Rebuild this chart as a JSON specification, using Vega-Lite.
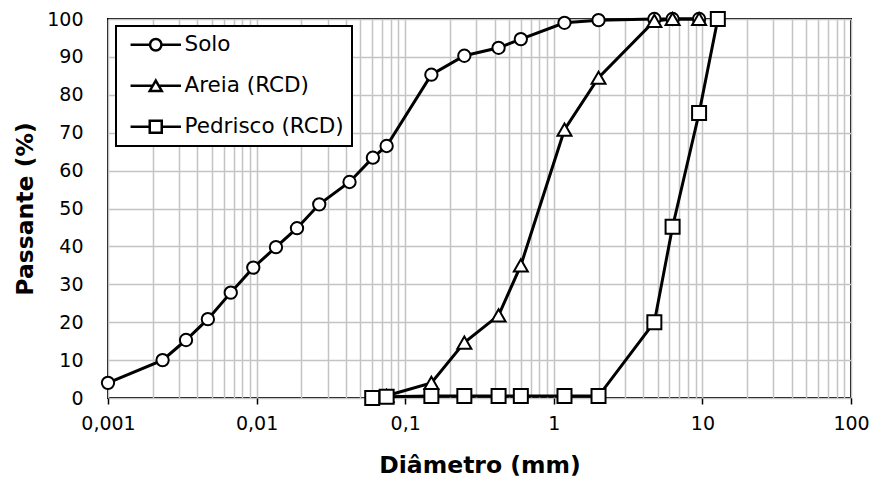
{
  "$schema": "https://vega.github.io/schema/vega-lite/v6.json",
  "width": 743,
  "height": 379,
  "autosize": {"type": "none"},
  "padding": {"left": 108, "top": 19, "right": 25, "bottom": 81},
  "background": "white",
  "config": {
    "view": {"stroke": "black", "strokeWidth": 2},
    "font": "DejaVu Sans",
    "legend": {"strokeWidth": 2}
  },
  "data": {
    "values": [
      {"series": "Solo", "d": 0.001, "p": 4},
      {"series": "Solo", "d": 0.00233, "p": 10},
      {"series": "Solo", "d": 0.00335, "p": 15.3},
      {"series": "Solo", "d": 0.0047, "p": 20.8},
      {"series": "Solo", "d": 0.0067, "p": 27.8},
      {"series": "Solo", "d": 0.0095, "p": 34.4},
      {"series": "Solo", "d": 0.0135, "p": 39.8},
      {"series": "Solo", "d": 0.0187, "p": 44.8},
      {"series": "Solo", "d": 0.0264, "p": 51.1},
      {"series": "Solo", "d": 0.0422, "p": 57},
      {"series": "Solo", "d": 0.0606, "p": 63.4},
      {"series": "Solo", "d": 0.075, "p": 66.5},
      {"series": "Solo", "d": 0.15, "p": 85.3},
      {"series": "Solo", "d": 0.25, "p": 90.3},
      {"series": "Solo", "d": 0.425, "p": 92.4},
      {"series": "Solo", "d": 0.6, "p": 94.7},
      {"series": "Solo", "d": 1.18, "p": 99},
      {"series": "Solo", "d": 2, "p": 99.7},
      {"series": "Solo", "d": 4.75, "p": 100},
      {"series": "Solo", "d": 6.3, "p": 100},
      {"series": "Solo", "d": 9.5, "p": 100},
      {"series": "Areia (RCD)", "d": 0.075, "p": 0.6},
      {"series": "Areia (RCD)", "d": 0.15, "p": 4},
      {"series": "Areia (RCD)", "d": 0.25, "p": 14.6},
      {"series": "Areia (RCD)", "d": 0.425, "p": 21.8},
      {"series": "Areia (RCD)", "d": 0.6, "p": 35},
      {"series": "Areia (RCD)", "d": 1.18, "p": 70.8},
      {"series": "Areia (RCD)", "d": 2, "p": 84.5},
      {"series": "Areia (RCD)", "d": 4.75, "p": 99.5},
      {"series": "Areia (RCD)", "d": 6.3, "p": 100},
      {"series": "Areia (RCD)", "d": 9.5, "p": 100},
      {"series": "Pedrisco (RCD)", "d": 0.06, "p": 0},
      {"series": "Pedrisco (RCD)", "d": 0.075, "p": 0.3},
      {"series": "Pedrisco (RCD)", "d": 0.15, "p": 0.5},
      {"series": "Pedrisco (RCD)", "d": 0.25, "p": 0.5},
      {"series": "Pedrisco (RCD)", "d": 0.425, "p": 0.5},
      {"series": "Pedrisco (RCD)", "d": 0.6, "p": 0.5},
      {"series": "Pedrisco (RCD)", "d": 1.18, "p": 0.5},
      {"series": "Pedrisco (RCD)", "d": 2, "p": 0.5},
      {"series": "Pedrisco (RCD)", "d": 4.75, "p": 20},
      {"series": "Pedrisco (RCD)", "d": 6.3, "p": 45.2},
      {"series": "Pedrisco (RCD)", "d": 9.5, "p": 75.2},
      {"series": "Pedrisco (RCD)", "d": 12.7, "p": 100}
    ]
  },
  "encoding": {
    "x": {
      "field": "d",
      "type": "quantitative",
      "scale": {"type": "log", "domain": [0.001, 100], "nice": false},
      "axis": {
        "values": [0.001, 0.002, 0.003, 0.004, 0.005, 0.006, 0.007, 0.008, 0.009,
                   0.01, 0.02, 0.03, 0.04, 0.05, 0.06, 0.07, 0.08, 0.09,
                   0.1, 0.2, 0.3, 0.4, 0.5, 0.6, 0.7, 0.8, 0.9,
                   1, 2, 3, 4, 5, 6, 7, 8, 9,
                   10, 20, 30, 40, 50, 60, 70, 80, 90, 100],
        "grid": true,
        "gridColor": "#c4c4c4",
        "gridWidth": 1.5,
        "domain": false,
        "ticks": true,
        "tickColor": "black",
        "tickWidth": 1.5,
        "tickSize": 6,
        "tickOpacity": {"condition": {"test": "abs(log(datum.value)/LN10 - round(log(datum.value)/LN10)) < 0.001", "value": 1}, "value": 0},
        "labelExpr": "abs(log(datum.value)/LN10 - round(log(datum.value)/LN10)) < 0.001 ? replace(format(datum.value, '~g'), '.', ',') : ''",
        "labelOverlap": false,
        "labelFlush": false,
        "labelFont": "DejaVu Sans",
        "labelFontSize": 19,
        "labelColor": "black",
        "labelPadding": 10,
        "title": "Diâmetro (mm)",
        "titleFont": "DejaVu Sans",
        "titleFontWeight": "bold",
        "titleFontSize": 23.5,
        "titleColor": "black",
        "titlePadding": 20
      }
    },
    "y": {
      "field": "p",
      "type": "quantitative",
      "scale": {"domain": [0, 100], "nice": false},
      "axis": {
        "values": [0, 10, 20, 30, 40, 50, 60, 70, 80, 90, 100],
        "grid": true,
        "gridColor": "#c4c4c4",
        "gridWidth": 1.5,
        "domain": false,
        "ticks": false,
        "labelFont": "DejaVu Sans",
        "labelFontSize": 19,
        "labelColor": "black",
        "labelPadding": 25,
        "title": "Passante (%)",
        "titleFont": "DejaVu Sans",
        "titleFontWeight": "bold",
        "titleFontSize": 23.5,
        "titleColor": "black",
        "titlePadding": 9
      }
    }
  },
  "layer": [
    {
      "mark": {"type": "line", "stroke": "black", "strokeWidth": 3, "clip": false},
      "encoding": {"detail": {"field": "series"}}
    },
    {
      "mark": {"type": "point", "filled": true, "fill": "white", "stroke": "black", "strokeWidth": 2, "opacity": 1, "size": 196, "clip": false},
      "encoding": {
        "shape": {
          "field": "series",
          "type": "nominal",
          "sort": null,
          "scale": {"domain": ["Solo", "Areia (RCD)", "Pedrisco (RCD)"], "range": ["M-0.88,0A0.88,0.88,0,1,0,0.88,0A0.88,0.88,0,1,0,-0.88,0Z", "triangle-up", "square"]},
          "legend": null
        }
      }
    },
    {
      "transform": [{"filter": "datum.p > 1000"}],
      "mark": {"type": "point", "filled": true, "fill": "white", "stroke": "black", "strokeWidth": 2.5, "opacity": 1, "size": 144, "clip": false},
      "encoding": {
        "shape": {
          "field": "series",
          "type": "nominal",
          "sort": null,
          "scale": {
            "domain": ["Solo", "Areia (RCD)", "Pedrisco (RCD)"],
            "range": [
              "M-4.2,0H-0.95M0.95,0H4.2M-0.95,0A0.95,0.95,0,1,0,0.95,0A0.95,0.95,0,1,0,-0.95,0Z",
              "M-4.2,0H-0.5M0.5,0H4.2M0,-0.87L-1,0.87L1,0.87Z",
              "M-4.2,0H-1M1,0H4.2M-1,-1H1V1H-1Z"
            ]
          },
          "legend": {
            "title": null,
            "orient": "none",
            "legendX": 8,
            "legendY": 7,
            "strokeColor": "black",
            "fillColor": "white",
            "padding": 8,
            "rowPadding": 18,
            "symbolSize": 144,
            "symbolOffset": 21,
            "labelOffset": 18,
            "symbolStrokeWidth": 2.5,
            "labelFont": "DejaVu Sans",
            "labelFontSize": 21.5,
            "labelColor": "black"
          }
        }
      }
    }
  ],
  "resolve": {"scale": {"shape": "independent"}, "legend": {"shape": "independent"}}
}
